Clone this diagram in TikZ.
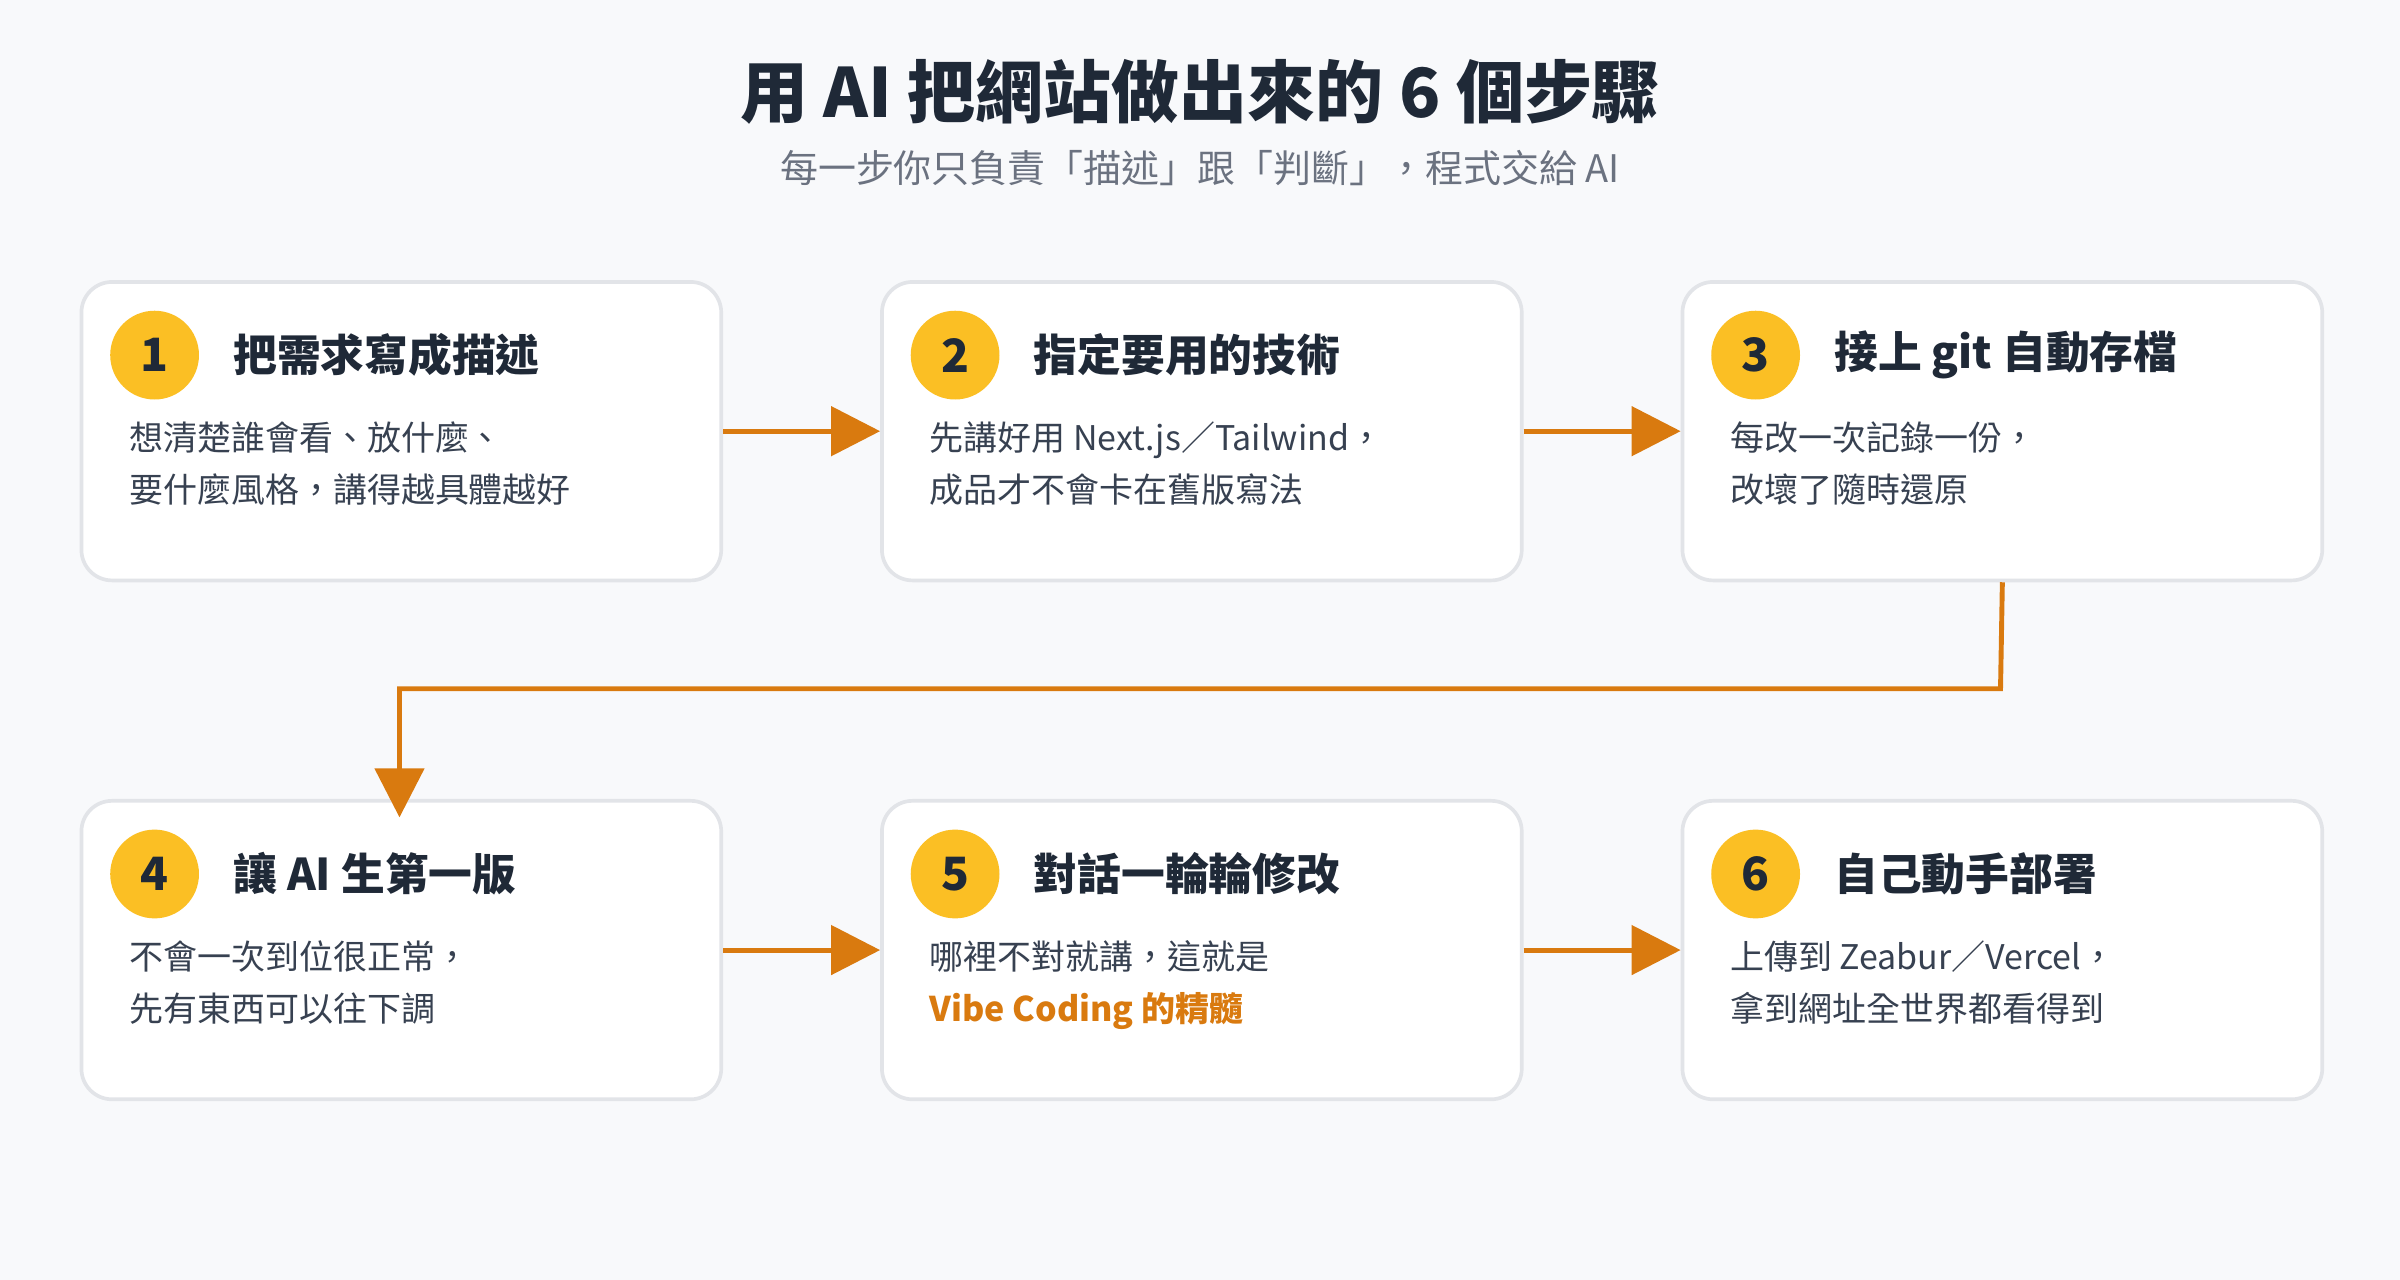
\documentclass[tikz,border=0pt]{standalone}
\usepackage{fontspec}
\setmainfont{Noto Sans CJK TC}
\usetikzlibrary{arrows.meta}
\definecolor{bg}{HTML}{F8F9FB}
\definecolor{bord}{HTML}{E2E4E8}
\definecolor{org}{HTML}{D97A0F}
\definecolor{yel}{HTML}{FBBF24}
\definecolor{dark}{HTML}{1F2937}
\definecolor{body}{HTML}{374151}
\definecolor{sub}{HTML}{6B7280}
\tikzset{
 box/.style={draw=bord,line width=1.2pt,fill=white,rounded corners=10pt,minimum width=209pt,minimum height=97.5pt,inner sep=0pt},
 num/.style={circle,fill=yel,minimum size=29pt,inner sep=0pt,font=\fontsize{15}{15}\selectfont\bfseries,text=dark},
 head/.style={anchor=west,font=\fontsize{14.3}{14}\selectfont\bfseries,text=dark,inner sep=0pt},
 txt/.style={anchor=north west,font=\fontsize{11.1}{17}\selectfont,text=body,align=left,inner sep=0pt},
 arr/.style={draw=org,line width=1.6pt,-{Triangle[length=16pt,width=16pt]}}
}
\begin{document}
\begin{tikzpicture}[x=0.5pt,y=-0.5pt]
\fill[bg] (0,0) rectangle (1568,836);
\useasboundingbox (0,0) rectangle (1568,836);
\node[font=\fontsize{22.2}{22}\selectfont\bfseries,text=dark] (title) at (784,60) {用 AI 把網站做出來的 6 個步驟};
\node[font=\fontsize{12.4}{12}\selectfont,text=sub] (subt) at (784,110) {每一步你只負責「描述」跟「判斷」，程式交給 AI};
% boxes
\foreach \n/\x/\y in {1/52/183,2/575/183,3/1098/183,4/52/522,5/575/522,6/1098/522}{
 \node[box,anchor=north west] (b\n) at (\x,\y) {};
 \node[num] (c\n) at (\x+49,\y+49) {\n};
}
\node[head] (h1) at (152,232) {把需求寫成描述};
\node[head] (h2) at (675,232) {指定要用的技術};
\node[head] (h3) at (1198,232) {接上 git 自動存檔};
\node[head] (h4) at (152,571) {讓 AI 生第一版};
\node[head] (h5) at (675,571) {對話一輪輪修改};
\node[head] (h6) at (1198,571) {自己動手部署};
\node[txt] (t1) at (84,275) {想清楚誰會看、放什麼、\\要什麼風格，講得越具體越好};
\node[txt] (t2) at (607,275) {先講好用 Next.js／Tailwind，\\成品才不會卡在舊版寫法};
\node[txt] (t3) at (1130,275) {每改一次記錄一份，\\改壞了隨時還原};
\node[txt] (t4) at (84,614) {不會一次到位很正常，\\先有東西可以往下調};
\node[txt] (t5) at (607,614) {哪裡不對就講，這就是\\{\color{org}\bfseries Vibe Coding 的精髓}};
\node[txt] (t6) at (1130,614) {上傳到 Zeabur／Vercel，\\拿到網址全世界都看得到};
% arrows
\draw[arr] (b1.east) -- (b2.west);
\draw[arr] (b2.east) -- (b3.west);
\draw[arr] (b4.east) -- (b5.west);
\draw[arr] (b5.east) -- (b6.west);
\coordinate (k1) at (1307,450);
\coordinate (k2) at (261,450);
\draw[arr] (b3.south) -- (k1) -- (k2) -- ([yshift=-6]b4.north -| k2);
\end{tikzpicture}
\end{document}
